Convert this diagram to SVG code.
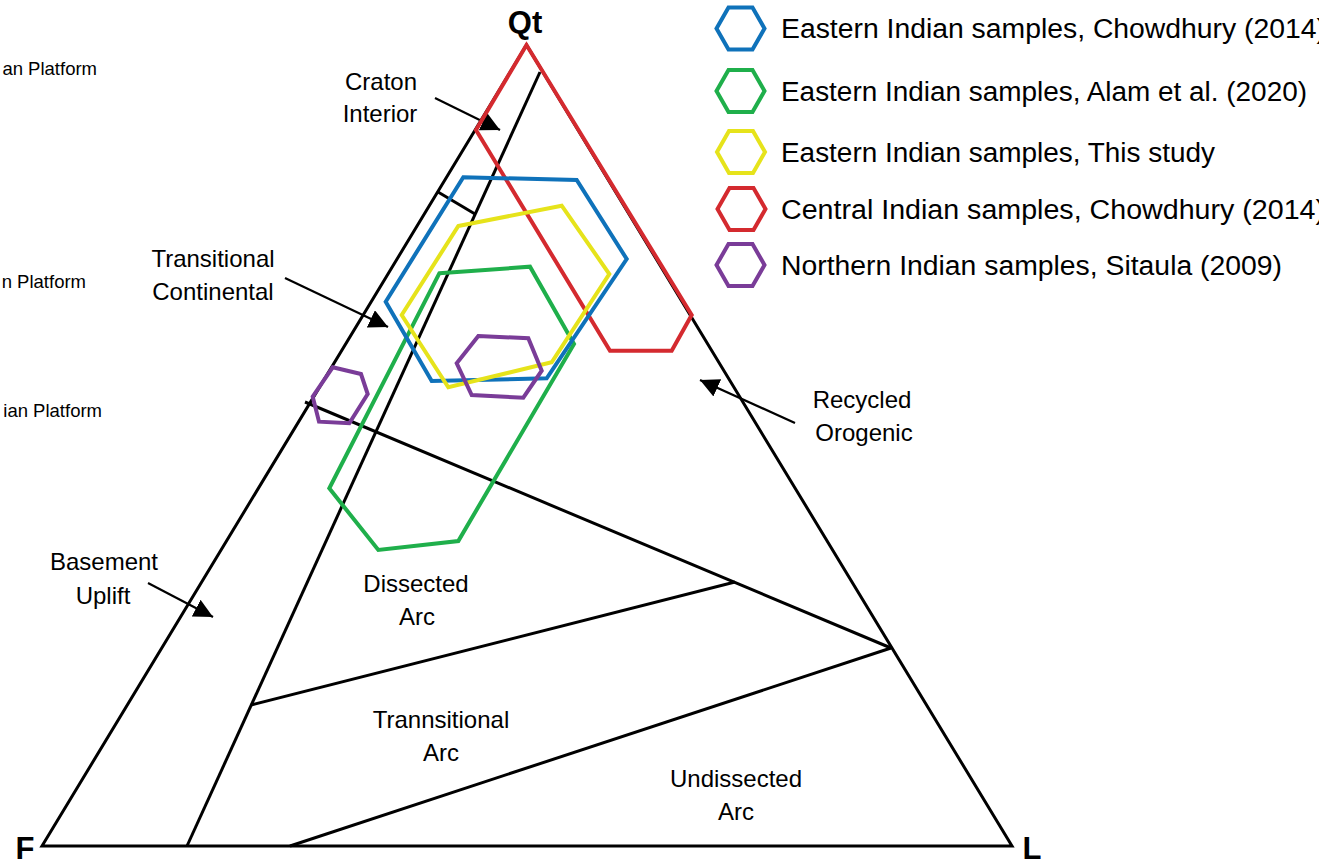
<svg xmlns="http://www.w3.org/2000/svg" width="1319" height="864" viewBox="0 0 1319 864">
<defs>
<style>
.frame{fill:none;stroke:#000;stroke-width:3;stroke-linejoin:miter}
.arr{fill:none;stroke:#000;stroke-width:2.2}
.lbl{font-family:"Liberation Sans",Arial,sans-serif;font-size:24px;fill:#000;text-anchor:middle}
.apex{font-family:"Liberation Sans",Arial,sans-serif;font-size:31px;font-weight:bold;fill:#000}
.leg{font-family:"Liberation Sans",Arial,sans-serif;font-size:27px;fill:#000}
.cut{font-family:"Liberation Sans",Arial,sans-serif;font-size:18.5px;fill:#000;text-anchor:end}
.hx{fill:none;stroke-width:4;stroke-linejoin:miter}
.blue{stroke:#0F72BA}.green{stroke:#1FAF4B}.yellow{stroke:#E6E31B}.red{stroke:#D42A2F}.purple{stroke:#7A3C98}
</style>
<marker id="ah" markerUnits="userSpaceOnUse" markerWidth="20" markerHeight="20" refX="19" refY="9.5" orient="auto">
<path d="M0,0 L19,9.5 L0,19 Z" fill="#000"/>
</marker>
</defs>
<rect width="1319" height="864" fill="#fff"/>

<g id="cut-labels">
<text class="cut" x="97" y="75">an Platform</text>
<text class="cut" x="86" y="288">n Platform</text>
<text class="cut" x="102" y="417">ian Platform</text>
</g>

<g id="ternary-frame">
<path class="frame" d="M42,846 L526.5,45 L1012,846 Z"/>
<path class="frame" d="M540,72 L187,846"/>
<path class="frame" d="M438,192 L475,214"/>
<path class="frame" d="M305,402 L891,648"/>
<path class="frame" d="M251,705 L735,582"/>
<path class="frame" d="M290,846 L891,648"/>
</g>

<g id="apex-labels">
<text id="qt" class="apex" x="525" y="33" text-anchor="middle">Qt</text>
<text id="f" class="apex" x="25" y="859" text-anchor="middle">F</text>
<text id="l" class="apex" x="1032" y="859" text-anchor="middle">L</text>
</g>

<g id="field-labels">
<g id="craton-interior"><text class="lbl" x="381" y="90">Craton</text><text class="lbl" x="380" y="122">Interior</text></g>
<g id="transitional-continental"><text class="lbl" x="213" y="267">Transitional</text><text class="lbl" x="213" y="300">Continental</text></g>
<g id="recycled-orogenic"><text class="lbl" x="862" y="408">Recycled</text><text class="lbl" x="864" y="441">Orogenic</text></g>
<g id="basement-uplift"><text class="lbl" x="104" y="570">Basement</text><text class="lbl" x="103" y="604">Uplift</text></g>
<g id="dissected-arc"><text class="lbl" x="416" y="592">Dissected</text><text class="lbl" x="417" y="625">Arc</text></g>
<g id="transitional-arc"><text class="lbl" x="441" y="728">Trannsitional</text><text class="lbl" x="441" y="761">Arc</text></g>
<g id="undissected-arc"><text class="lbl" x="736" y="787">Undissected</text><text class="lbl" x="736" y="820">Arc</text></g>
</g>

<g id="connectors">
<path class="arr" d="M435,98 L500,130" marker-end="url(#ah)"/>
<path class="arr" d="M285,278 L388,327" marker-end="url(#ah)"/>
<path class="arr" d="M148,583 L213,617" marker-end="url(#ah)"/>
<path class="arr" d="M795,423 L700,380" marker-end="url(#ah)"/>
</g>

<g id="data-fields">
<polygon id="red-field" class="hx red" points="526.5,45 476,130 610,350.7 671.7,350.7 691.7,315"/>
<polygon id="green-field" class="hx green" points="439.3,273.3 530,266.7 574,344 458.3,541 378.3,550 329.3,488.3"/>
<polygon id="blue-field" class="hx blue" points="463.3,177.3 576.7,180 626.7,259 546.7,378.3 431.7,381 385.7,301.7"/>
<polygon id="yellow-field" class="hx yellow" points="458.3,226 561.7,205.7 609.3,274 551.7,362.3 448.3,387.3 401.7,315"/>
<polygon id="purple-field-1" class="hx purple" points="478.3,336 528.3,338.3 541.7,370.7 523.3,397.7 471.7,395 456.7,363.3"/>
<polygon id="purple-field-2" class="hx purple" points="332.7,367.3 361,374 367.7,394 349.3,423.3 319,421.7 312.7,396.7"/>
</g>

<g id="legend">
<g id="leg-blue"><polygon class="hx blue" points="716.5,28.5 728.5,7.5 752.5,7.5 764.5,28.5 752.5,49.5 728.5,49.5"/><text class="leg" x="781" y="38" textLength="545" lengthAdjust="spacingAndGlyphs">Eastern Indian samples, Chowdhury (2014)</text></g>
<g id="leg-green"><polygon class="hx green" points="716.5,91 728.5,70 752.5,70 764.5,91 752.5,112 728.5,112"/><text class="leg" x="781" y="101" textLength="526" lengthAdjust="spacingAndGlyphs">Eastern Indian samples, Alam et al. (2020)</text></g>
<g id="leg-yellow"><polygon class="hx yellow" points="717,152 729,131 753,131 765,152 753,173 729,173"/><text class="leg" x="781" y="162" textLength="434" lengthAdjust="spacingAndGlyphs">Eastern Indian samples, This study</text></g>
<g id="leg-red"><polygon class="hx red" points="717.5,209 729.5,188 753.5,188 765.5,209 753.5,230 729.5,230"/><text class="leg" x="781" y="219" textLength="544" lengthAdjust="spacingAndGlyphs">Central Indian samples, Chowdhury (2014)</text></g>
<g id="leg-purple"><polygon class="hx purple" points="716.5,265 728.5,244 752.5,244 764.5,265 752.5,286 728.5,286"/><text class="leg" x="781" y="275" textLength="501" lengthAdjust="spacingAndGlyphs">Northern Indian samples, Sitaula (2009)</text></g>
</g>
</svg>
